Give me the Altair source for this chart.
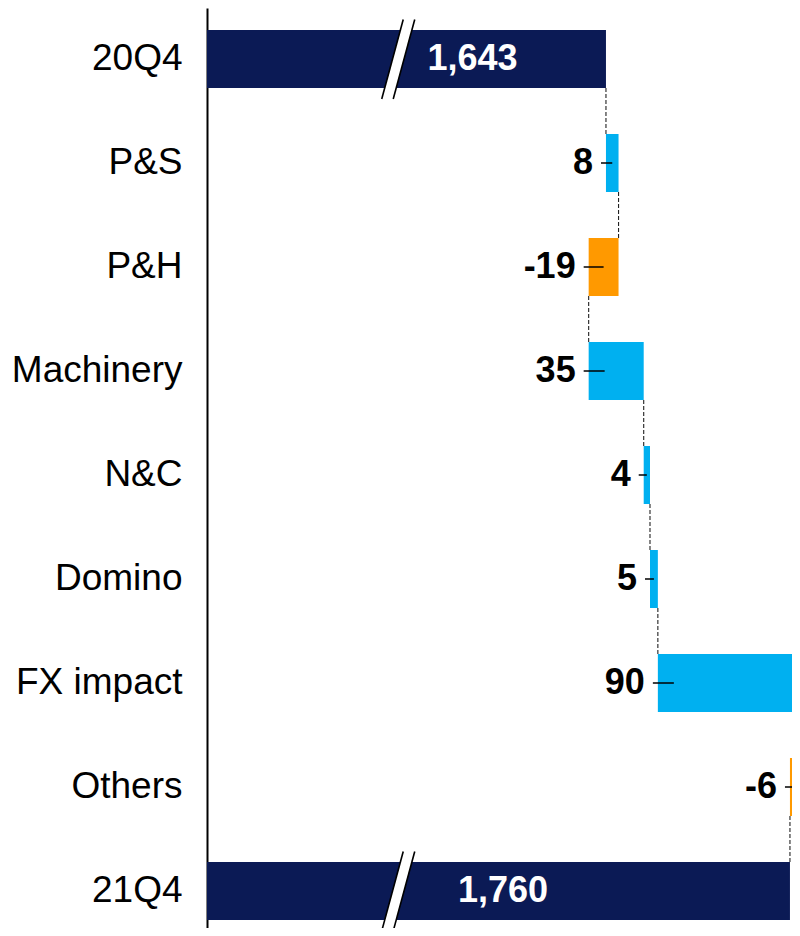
import altair as alt
import pandas as pd

# ---- data ----
categories = ["20Q4", "P&S", "P&H", "Machinery", "N&C", "Domino", "FX impact", "Others", "21Q4"]
values = [1643, 8, -19, 35, 4, 5, 90, -6, 1760]
is_total = [True, False, False, False, False, False, False, False, True]

# ---- layout constants (axis is broken: the view starts near 1389) ----
X_MIN, X_MAX = 1389.3, 1761.3
BREAK_AT = 1510.9
TOTAL_LABEL_AT = {"20Q4": 1558.1, "21Q4": 1577.5}
LEAD_MAX = 10.17

NAVY, BLUE, ORANGE = "#0B1A55", "#00B0F0", "#FF9900"
FONT = "Liberation Sans"

rows = []
running = 0
for cat, v, tot in zip(categories, values, is_total):
    if tot:
        start, end, kind = 0, v, "total"
        running = v
        label = f"{v:,}"
    else:
        start, end = running, running + v
        running = end
        kind = "up" if v > 0 else "down"
        label = str(v)
    rows.append(dict(cat=cat, value=v, start=start, end=end, kind=kind, label=label,
                     left=min(start, end),
                     lead_end=min(start, end) + min(abs(v) / 2, LEAD_MAX),
                     label_at=TOTAL_LABEL_AT.get(cat, 0), brk=BREAK_AT))
df = pd.DataFrame(rows)

conn = pd.DataFrame({
    "x": [r["end"] for r in rows[:-1]],
    "frm": categories[:-1],
    "to": categories[1:],
})

yscale = alt.Scale(domain=categories, range=[0, 934], paddingInner=0.4423, paddingOuter=0.2115)
yaxis = alt.Axis(title=None, labelFont=FONT, labelFontSize=37, labelColor="black",
                 labelPadding=25, ticks=False, domainColor="black", domainWidth=2,
                 labelLimit=400, grid=False)
xscale = alt.Scale(domain=[X_MIN, X_MAX], nice=False, zero=False)

Y = alt.Y("cat:N", scale=yscale, axis=yaxis)

base = alt.Chart(df)

bars = base.mark_bar(clip=True).encode(
    x=alt.X("start:Q", scale=xscale, axis=None),
    x2="end:Q",
    y=Y,
    color=alt.Color("kind:N", scale=alt.Scale(domain=["total", "up", "down"],
                                              range=[NAVY, BLUE, ORANGE]), legend=None),
)

connectors = alt.Chart(conn).mark_rule(
    clip=True, stroke="#222222", strokeWidth=1.1, strokeDash=[4, 2], yOffset=29, y2Offset=-29
).encode(
    x=alt.X("x:Q", scale=xscale, axis=None),
    y=alt.Y("frm:N", scale=yscale, axis=yaxis),
    y2="to:N",
)

deltas = base.transform_filter("datum.kind != 'total'")

leaders = deltas.mark_rule(stroke="black", strokeWidth=1.5, xOffset=-5).encode(
    x=alt.X("left:Q", scale=xscale, axis=None),
    x2="lead_end:Q",
    y=Y,
)

delta_text = deltas.mark_text(
    align="right", baseline="middle", dx=-13, font=FONT, fontSize=36, fontWeight="bold", color="black"
).encode(
    x=alt.X("left:Q", scale=xscale, axis=None),
    y=Y,
    text="label:N",
)

totals = base.transform_filter("datum.kind == 'total'")

brk_white = totals.mark_rule(
    stroke="white", strokeWidth=11, xOffset=-10.75, x2Offset=10.75, yOffset=40, y2Offset=-39.5
).encode(
    x=alt.X("brk:Q", scale=xscale, axis=None), x2="brk:Q", y=Y, y2="cat:N",
)
brk_l = totals.mark_rule(
    stroke="black", strokeWidth=1.6, xOffset=-16.5, x2Offset=5.0, yOffset=40, y2Offset=-39.5
).encode(
    x=alt.X("brk:Q", scale=xscale, axis=None), x2="brk:Q", y=Y, y2="cat:N",
)
brk_r = totals.mark_rule(
    stroke="black", strokeWidth=1.6, xOffset=-5.0, x2Offset=16.5, yOffset=40, y2Offset=-39.5
).encode(
    x=alt.X("brk:Q", scale=xscale, axis=None), x2="brk:Q", y=Y, y2="cat:N",
)

total_text = totals.mark_text(
    align="center", baseline="middle", font=FONT, fontSize=36, fontWeight="bold", color="white"
).encode(
    x=alt.X("label_at:Q", scale=xscale, axis=None),
    y=Y,
    text="label:N",
)

chart = alt.layer(
    bars, connectors, leaders, brk_white, brk_l, brk_r, delta_text, total_text
).properties(
    width=585, height=920,
    background="white",
    padding={"left": 199, "top": 0, "right": 0, "bottom": 0},
    autosize=alt.AutoSizeParams(type="none"),
).configure_view(strokeWidth=0, stroke="transparent")

chart.save("out.html", embed_options={"renderer": "svg", "actions": False})
